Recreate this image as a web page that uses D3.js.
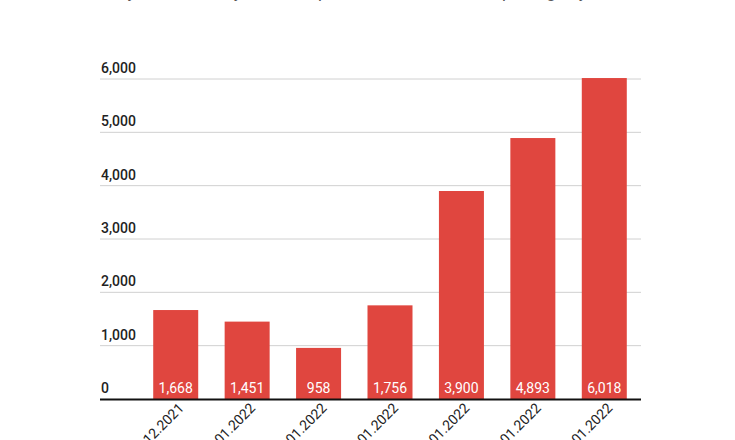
<!DOCTYPE html>
<html>
<head>
<meta charset="utf-8">
<script src="https://cdn.jsdelivr.net/npm/d3@7"></script>
<style>
  body { margin: 0; background: #fff; overflow: hidden; }
  text { font-family: Roboto, "Noto Sans", sans-serif; }
</style>
</head>
<body>
<script>
// data
var dates = ["31.12.2021", "05.01.2022", "10.01.2022", "15.01.2022", "20.01.2022", "25.01.2022", "30.01.2022"];
var cases = [1668, 1451, 958, 1756, 3900, 4893, 6018];
var yTicks = [0, 1000, 2000, 3000, 4000, 5000, 6000];
var title = "Weekly new cases by date of report for the last seven reporting days";

function draw() {
  "use strict";
  var width = 735, height = 440;

  var svg = d3.select("body")
    .append("svg")
      .attr("width", width)
      .attr("height", height);

  // title sits above the frame, only descenders peek in
  svg.append("text")
    .attr("x", 82)
    .attr("y", -2.5)
    .style("font-size", "17px")
    .style("fill", "#555")
    .text(title);

  var x = d3.scaleBand()
    .domain(dates)
    .range([140, 640])
    .paddingInner(0.37)
    .paddingOuter(0.185);

  var y = d3.scaleLinear()
    .domain([0, 6000])
    .range([399, 79]);

  // gridlines + tick labels
  var grid = svg.append("g").attr("class", "grid");
  grid.selectAll("line")
    .data(yTicks.slice(1))
    .enter()
    .append("line")
      .attr("x1", 100)
      .attr("x2", 641)
      .attr("y1", function (d) { return y(d); })
      .attr("y2", function (d) { return y(d); })
      .style("stroke", "#d0d0d0")
      .style("stroke-width", 1);

  grid.selectAll("text")
    .data(yTicks)
    .enter()
    .append("text")
      .attr("x", 101)
      .attr("y", function (d) { return y(d) - 6; })
      .style("font-size", "14px")
      .style("font-weight", 500)
      .style("fill", "#222")
      .text(function (d) { return d3.format(",")(d); });

  // bars
  svg.selectAll("rect.bar")
    .data(cases)
    .enter()
    .append("rect")
      .attr("class", "bar")
      .attr("x", function (d, i) { return x(dates[i]); })
      .attr("y", function (d) { return y(d); })
      .attr("width", x.bandwidth())
      .attr("height", function (d) { return y(0) - y(d); })
      .style("fill", "#e0463f");

  // value labels inside bars
  svg.selectAll("text.val")
    .data(cases)
    .enter()
    .append("text")
      .attr("class", "val")
      .attr("x", function (d, i) { return x(dates[i]) + x.bandwidth() / 2; })
      .attr("y", y(0) - 6)
      .attr("text-anchor", "middle")
      .style("font-size", "14px")
      .style("fill", "#fff")
      .text(function (d) { return d3.format(",")(d); });

  // baseline
  svg.append("line")
    .attr("x1", 100)
    .attr("x2", 641)
    .attr("y1", y(0) + 0.5)
    .attr("y2", y(0) + 0.5)
    .style("stroke", "#111")
    .style("stroke-width", 2);

  // rotated date labels
  svg.selectAll("text.date")
    .data(dates)
    .enter()
    .append("text")
      .attr("class", "date")
      .attr("text-anchor", "end")
      .attr("transform", function (d) {
        var cx = x(d) + x.bandwidth() / 2 + 9;
        return "translate(" + cx + ",409) rotate(-45)";
      })
      .style("font-size", "14px")
      .style("fill", "#222")
      .text(function (d) { return d; });
}

draw();
</script>
</body>
</html>
